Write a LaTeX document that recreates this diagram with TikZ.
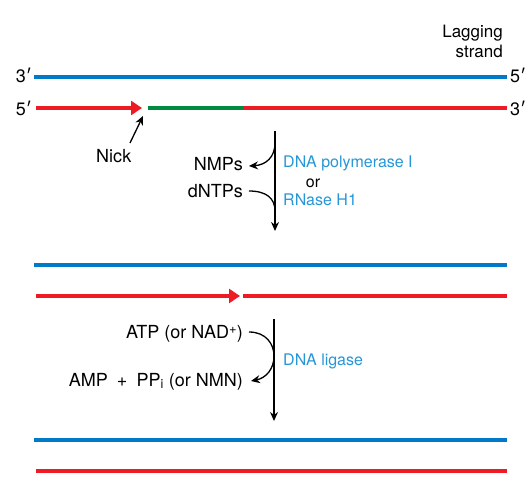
\documentclass[tikz,border=0pt]{standalone}
\usepackage{fontspec}
\setmainfont{TeX Gyre Heros}
\newfontfamily\primefont{Lato}
\usepackage{tikz}
\usetikzlibrary{arrows.meta,positioning,calc}
\definecolor{strandblue}{RGB}{0,122,200}
\definecolor{strandred}{RGB}{237,28,36}
\definecolor{strandgreen}{RGB}{0,140,64}
\definecolor{enzblue}{RGB}{38,150,215}
\newcommand{\prm}{{\primefont ′}}
\newcommand{\supplus}{\raisebox{0.5ex}{\fontsize{13}{13}\selectfont +}}

\tikzset{
  strand/.style={line width=3.4pt},
  lbl/.style={inner sep=0pt, font=\fontsize{18}{20}\selectfont},
  enz/.style={inner sep=0pt, font=\fontsize{16}{20}\selectfont, text=enzblue},
  nicktip/.style={-{Triangle[length=11pt,width=14pt]}},
  step arrow/.style={line width=1.3pt, -{Stealth[length=9pt,width=8pt]}},
  side arrow/.style={line width=1.3pt, -{Stealth[length=9pt,width=8pt]}}
}

\begin{document}
\begin{tikzpicture}[x=1pt, y=-1pt]
  \useasboundingbox (0,0) rectangle (532,492);

  % Strand end points
  \coordinate (b1l) at (34,77);   \coordinate (b1r) at (507,77);
  \coordinate (r1l) at (36,108);  \coordinate (r1r) at (507,108);
  \coordinate (nick) at (142,108);
  \coordinate (g1l) at (148,108); \coordinate (g1r) at (243,108);

  % Top duplex
  \draw[strand, strandblue] (b1l) -- (b1r);
  \draw[strand, strandred, nicktip] (r1l) -- (nick);
  \draw[strand, strandgreen] (g1l) -- (g1r);
  \draw[strand, strandred] (g1r) -- (r1r);

  \node[lbl, anchor=base east] (b1lab) at (32,83) {3\prm};
  \node[lbl, anchor=base west] (b1rab) at (510,83) {5\prm};
  \node[lbl, anchor=base east] (r1lab) at (32,116) {5\prm};
  \node[lbl, anchor=base west] (r1rab) at (510,116) {3\prm};
  \node[lbl, font=\fontsize{17}{20}\selectfont, anchor=south east, align=right]
    (lag) at (503,58) {Lagging\\strand};

  % Nick
  \node[lbl, anchor=base west] (nicklab) at (96,162) {Nick};
  \draw[side arrow] (130,143) -- (143,116);

  % Step 1
  \coordinate (v1t) at (275,131);
  \coordinate (v1b) at (275,231);
  \draw[step arrow] (v1t) -- (v1b);
  \node[lbl, anchor=base east] (nmp) at (243,170) {NMPs};
  \node[lbl, anchor=base east] (dntp) at (243,197) {dNTPs};
  \draw[side arrow] (275,143) .. controls (275,157) and (266,165) .. (249,166);
  \draw[line width=1.3pt] (249,191) .. controls (266,191) and (275,198) .. (275,211);
  \node[enz, anchor=base west] (pol) at (283,167) {DNA polymerase I};
  \node[enz, text=black, anchor=base] (or) at (313,187) {or};
  \node[enz, anchor=base west] (rnase) at (283,205) {RNase H1};

  % Middle duplex
  \coordinate (b2l) at (34,265);  \coordinate (b2r) at (507,265);
  \coordinate (r2l) at (36,296);  \coordinate (r2r) at (507,296);
  \coordinate (seal) at (240,296); \coordinate (r2m) at (243,296);
  \draw[strand, strandblue] (b2l) -- (b2r);
  \draw[strand, strandred, nicktip] (r2l) -- (seal);
  \draw[strand, strandred] (r2m) -- (r2r);

  % Step 2
  \coordinate (v2t) at (274,319);
  \coordinate (v2b) at (274,421);
  \draw[step arrow] (v2t) -- (v2b);
  \node[lbl, anchor=base east] (atp) at (243,338) {ATP (or NAD\supplus)};
  \node[lbl, anchor=base east] (amp) at (243,386) {AMP\enspace+\enspace PP\textsubscript{i} (or NMN)};
  \draw[side arrow] (249,332) .. controls (266,332) and (274,344) .. (274,356)
    .. controls (274,369) and (266,378) .. (251,381);
  \node[enz, anchor=base west] (lig) at (283,365) {DNA ligase};

  % Bottom duplex
  \coordinate (b3l) at (34,440);  \coordinate (b3r) at (507,440);
  \coordinate (r3l) at (36,471);  \coordinate (r3r) at (507,471);
  \draw[strand, strandblue] (b3l) -- (b3r);
  \draw[strand, strandred] (r3l) -- (r3r);
\end{tikzpicture}
\end{document}
